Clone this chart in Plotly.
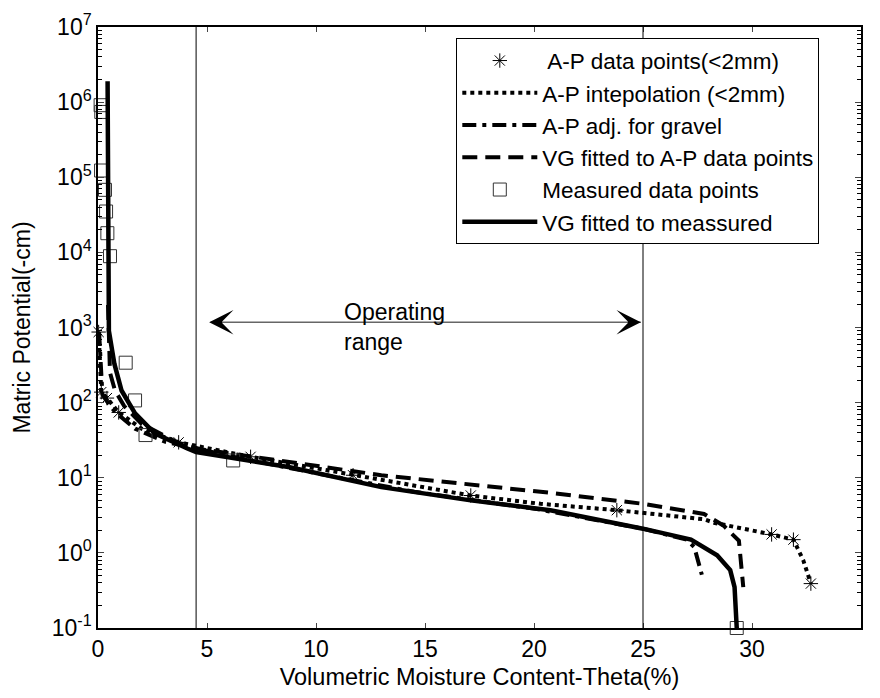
import plotly.graph_objects as go

# A-P data points (<2mm)
ap_x = [0.03, 0.15, 0.41, 0.95, 3.7, 7.0, 11.7, 17.1, 23.8, 30.9, 31.9, 32.7]
ap_y = [870, 138, 115, 74, 29.6, 19, 10.8, 5.8, 3.7, 1.76, 1.5, 0.39]

# A-P interpolation (<2mm)
interp_x = [0.03, 0.08, 0.15, 0.41, 0.95, 2.0, 3.7, 7.0, 11.7, 17.1, 20.3, 23.8, 27.8, 28.3, 30.9, 31.9, 32.35, 32.7]
interp_y = [870, 400, 138, 115, 74, 45, 29.6, 19, 10.8, 5.8, 4.5, 3.7, 2.8, 2.5, 1.76, 1.5, 0.8, 0.39]

# A-P adjusted for gravel
grav_x = [0.05, 0.1, 0.13, 0.2, 0.35, 0.8, 1.7, 3.1, 4.7, 6.0, 10.0, 14.5, 20.2, 25.0, 27.0, 27.35, 27.7]
grav_y = [870, 400, 200, 130, 110, 74, 45, 30, 24, 19.5, 11.5, 6.5, 3.8, 2.1, 1.5, 1.2, 0.51]

# VG fitted to A-P data points
vgap_x = [0.46, 0.5, 0.55, 0.78, 1.2, 2.0, 3.7, 4.7, 8.8, 13.0, 20.75, 25.0, 27.8, 28.7, 29.4, 29.6]
vgap_y = [2000, 500, 250, 145, 90, 52, 29, 24, 16, 10.8, 6.3, 4.5, 3.3, 2.3, 1.45, 0.35]

# Measured data points
meas_x = [0.12, 0.15, 0.14, 0.32, 0.37, 0.43, 0.55, 1.27, 1.70, 2.18, 6.2, 29.3]
meas_y = [9.1e5, 7.4e5, 1.23e5, 6.8e4, 3.5e4, 1.8e4, 8.9e3, 340, 107, 37, 17, 0.1]

# VG fitted to measured
vgm_x = [0.44, 0.45, 0.5, 0.75, 1.08, 1.7, 2.6, 4.1, 4.5, 8.8, 13.0, 17.1, 20.75, 25.0, 27.2, 28.4, 29.0, 29.2, 29.3]
vgm_y = [1.9e6, 1e4, 900, 330, 145, 72, 39, 24.5, 22, 13.8, 7.5, 5.0, 3.7, 2.1, 1.5, 0.93, 0.59, 0.35, 0.1]

x_ticks = [0, 5, 10, 15, 20, 25, 30, 35]
y_ticks = [1e-1, 1e0, 1e1, 1e2, 1e3, 1e4, 1e5, 1e6, 1e7]
y_ticktext = ["10<sup>-1</sup>", "10<sup>0</sup>", "10<sup>1</sup>", "10<sup>2</sup>", "10<sup>3</sup>",
              "10<sup>4</sup>", "10<sup>5</sup>", "10<sup>6</sup>", "10<sup>7</sup>"]
y_minor_ticks = [m * d for d in y_ticks[:-1] for m in range(2, 10)]
range_lines = [4.5, 25]
arrow_left, arrow_right, arrow_logy = 5.1, 24.9, 3.07

FONT = "Liberation Sans, Arial, sans-serif"
FS = 23

fig = go.Figure()
fig.add_trace(go.Scatter(x=ap_x, y=ap_y, mode="markers", name=" A-P data points(<2mm)",
                         marker=dict(symbol="asterisk-open", size=12, color="black",
                                     line=dict(color="black", width=1)), cliponaxis=False))
fig.add_trace(go.Scatter(x=interp_x, y=interp_y, mode="lines", name="A-P intepolation (<2mm)",
                         line=dict(color="black", width=4, dash="4px,4px")))
fig.add_trace(go.Scatter(x=grav_x, y=grav_y, mode="lines", name="A-P adj. for gravel",
                         line=dict(color="black", width=4, dash="14px,6px,4px,6px")))
fig.add_trace(go.Scatter(x=vgap_x, y=vgap_y, mode="lines", name="VG fitted to A-P data points",
                         line=dict(color="black", width=4, dash="15px,8px")))
fig.add_trace(go.Scatter(x=meas_x, y=meas_y, mode="markers", name="Measured data points",
                         marker=dict(symbol="square-open", size=13, color="#333333",
                                     line=dict(color="#333333", width=1)), cliponaxis=False))
fig.add_trace(go.Scatter(x=vgm_x, y=vgm_y, mode="lines", name="VG fitted to meassured",
                         line=dict(color="black", width=4.5)))

for xv in range_lines:
    fig.add_shape(type="line", x0=xv, x1=xv, y0=0, y1=1, xref="x", yref="paper",
                  line=dict(color="black", width=1))

# gray arrow shaft
fig.add_annotation(x=arrow_right, y=arrow_logy, ax=arrow_left, ay=arrow_logy, xref="x", yref="y",
                   axref="x", ayref="y", text="", showarrow=True, arrowhead=0,
                   arrowwidth=1.5, arrowcolor="#666666")
# black heads
fig.add_annotation(x=arrow_right, y=arrow_logy, ax=-34, ay=0, xref="x", yref="y",
                   text="", showarrow=True, arrowhead=3, arrowsize=2.7, arrowwidth=1.5,
                   arrowcolor="black", startstandoff=26)
fig.add_annotation(x=arrow_left, y=arrow_logy, ax=34, ay=0, xref="x", yref="y",
                   text="", showarrow=True, arrowhead=3, arrowsize=2.7, arrowwidth=1.5,
                   arrowcolor="black", startstandoff=26)
fig.add_annotation(x=11.2, y=3.01, xref="x", yref="y", text="Operating<br>range", showarrow=False,
                   xanchor="left", yanchor="middle", align="left",
                   font=dict(family=FONT, size=FS, color="black"))

fig.update_layout(
    width=864, height=682,
    margin=dict(l=90, r=11, t=19, b=62),
    paper_bgcolor="white", plot_bgcolor="white",
    font=dict(family=FONT, size=FS, color="black"),
    showlegend=True,
    legend=dict(x=0.4696, y=0.981, xanchor="left", yanchor="top",
                bordercolor="black", borderwidth=1, bgcolor="white", itemwidth=75,
                font=dict(family=FONT, size=22.5, color="black"), tracegroupgap=0),
    xaxis=dict(range=[0, 35], tickvals=x_ticks, ticks="inside", ticklen=5, showline=True,
               linecolor="black", linewidth=1.5, mirror="ticks", showgrid=False, zeroline=False,
               tickfont=dict(size=FS), automargin=False,
               title=dict(text="Volumetric Moisture Content-Theta(%)", font=dict(size=23.5))),
    yaxis=dict(type="log", range=[-1, 7], tickvals=y_ticks, ticktext=y_ticktext, ticks="inside",
               ticklen=6, showline=True, linecolor="black", linewidth=1.5, mirror="ticks",
               showgrid=False, zeroline=False, tickfont=dict(size=FS), automargin=False,
               minor=dict(ticks="inside", ticklen=4, tickcolor="black", tickmode="array",
                          tickvals=y_minor_ticks, showgrid=False),
               title=dict(text="Matric Potential(-cm)", font=dict(size=FS))),
)

fig.write_html("out.html")
